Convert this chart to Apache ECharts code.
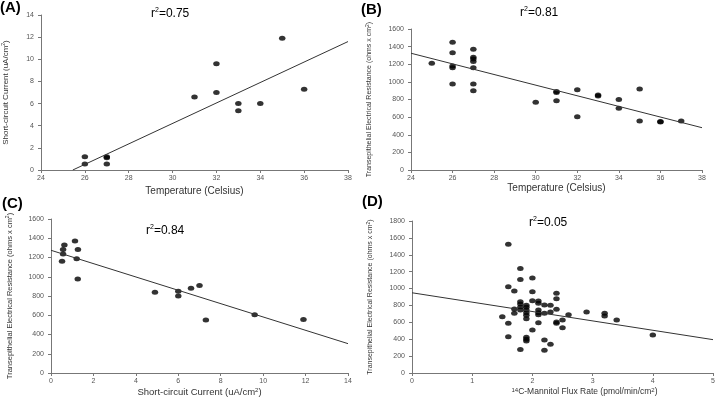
<!DOCTYPE html>
<html>
<head>
<meta charset="utf-8">
<script src="https://cdn.jsdelivr.net/npm/echarts@6/dist/echarts.min.js"></script>
<style>html,body{margin:0;padding:0;background:#fff}#c{width:720px;height:401px}</style>
</head>
<body>
<div id="c"></div>
<script>
// Panel A: Temperature vs Short-circuit current
const tempA = [26, 26, 27, 27, 27, 31, 32, 32, 33, 33, 34, 35, 36];
const iscA  = [1.2, 0.55, 1.2, 1.1, 0.55, 6.6, 9.6, 7.0, 6.0, 5.35, 6.0, 11.9, 7.3];
const fitA  = [[25.45, 0], [38, 11.6]];

// Panel B: Temperature vs TER
const tempB = [25, 26, 26, 26, 26, 26, 27, 27, 27, 27, 27, 27, 27, 30, 31, 31, 31, 32, 32, 33, 33, 34, 34, 35, 35, 36, 36, 37];
const terB  = [1210, 1450, 1330, 1180, 1160, 975, 1370, 1280, 1260, 1230, 1160, 975, 900, 770, 890, 880, 785, 910, 605, 850, 840, 800, 700, 920, 555, 550, 545, 555];
const fitB  = [[24, 1325], [38, 480]];

// Panel C: Short-circuit current vs TER
const iscC = [0.63, 0.57, 0.57, 0.52, 1.13, 1.27, 1.21, 1.26, 4.9, 6.0, 6.0, 6.6, 7.0, 7.3, 9.6, 11.9];
const terC = [1330, 1282, 1236, 1160, 1371, 1282, 1188, 976, 840, 850, 800, 880, 910, 550, 605, 555];
const fitC = [[0, 1275], [14, 305]];

// Panel D: Mannitol flux vs TER
const fluxD = [1.6, 1.8, 1.8, 2.0, 1.6, 1.7, 2.0, 2.4, 2.4, 2.0, 2.1, 2.1, 1.8, 1.8, 1.8, 1.8, 2.2, 2.3, 1.7, 1.7,
               1.9, 1.9, 1.9, 1.9, 1.9, 1.9, 2.1, 2.1, 2.1, 2.2, 2.3, 2.4, 2.6, 2.9, 3.2, 3.2, 3.4, 1.5, 1.6, 1.6,
               1.8, 2.1, 2.4, 2.4, 2.5, 2.5, 2.0, 1.9, 1.9, 1.9, 2.2, 2.2, 2.3, 4.0];
const terD  = [1525, 1238, 1108, 1125, 1022, 972, 963, 945, 880, 856, 852, 827, 845, 817, 780, 746, 804, 801, 758, 707,
               801, 778, 746, 714, 683, 643, 746, 714, 690, 707, 723, 754, 690, 722, 707, 675, 628, 667, 588, 430,
               278, 596, 605, 588, 628, 537, 509, 423, 399, 379, 391, 270, 340, 450];
const fitD  = [[0, 950], [5, 395]];

const xTicksA = {min: 24, max: 38, interval: 2};
const yTicksA = {min: 0, max: 14, interval: 2};
const xTicksB = {min: 24, max: 38, interval: 2};
const yTicksB = {min: 0, max: 1600, interval: 200};
const xTicksC = {min: 0, max: 14, interval: 2};
const yTicksC = {min: 0, max: 1600, interval: 200};
const xTicksD = {min: 0, max: 5, interval: 1};
const yTicksD = {min: 0, max: 1800, interval: 200};

const zip = (a, b) => a.map((v, i) => [v, b[i]]);
const FONT = 'Liberation Sans, Arial, sans-serif';
function supRich(fs) {
  return {
    n: {fontSize: fs, color: '#333', fontFamily: FONT},
    s: {fontSize: Math.round(fs * 0.65), color: '#333', fontFamily: FONT, verticalAlign: 'top', padding: [0, 0, 4, 0]}
  };
}

function xAx(idx, t, name, gap, fs, pad) {
  return {
    gridIndex: idx, type: 'value', min: t.min, max: t.max, interval: t.interval,
    name: name, nameLocation: 'middle', nameGap: gap,
    nameTextStyle: {fontSize: fs, color: '#333', fontFamily: FONT, rich: supRich(fs), padding: pad || 0},
    axisLine: {lineStyle: {color: '#777', width: 1}},
    axisTick: {show: true, length: 3, lineStyle: {color: '#777'}},
    axisLabel: {fontSize: 7, color: '#555', fontFamily: FONT, margin: 5, formatter: v => String(v)},
    splitLine: {show: false}
  };
}
function yAx(idx, t, name, gap, fs) {
  return {
    gridIndex: idx, type: 'value', min: t.min, max: t.max, interval: t.interval,
    name: name, nameLocation: 'middle', nameGap: gap,
    nameTextStyle: {fontSize: fs, color: '#333', fontFamily: FONT, rich: supRich(fs)},
    axisLine: {show: true, lineStyle: {color: '#777', width: 1}},
    axisTick: {show: true, length: 3, lineStyle: {color: '#777'}},
    axisLabel: {fontSize: 7, color: '#555', fontFamily: FONT, margin: 7, formatter: v => String(v)},
    splitLine: {show: false}
  };
}
function scatter(idx, data) {
  return {type: 'scatter', xAxisIndex: idx, yAxisIndex: idx, data: data,
    symbol: 'circle', symbolSize: [6.5, 5], itemStyle: {color: '#000'}, silent: true};
}
function fit(idx, data) {
  return {type: 'line', xAxisIndex: idx, yAxisIndex: idx, data: data, showSymbol: false,
    lineStyle: {color: '#333', width: 1}, silent: true};
}
function label(txt, x, y) {
  return {type: 'text', left: x, top: y, style: {text: txt, font: 'bold 15px ' + FONT, fill: '#000'}};
}
function r2(val, x, y) {
  return {type: 'text', left: x, top: y, style: {
    text: '{n|r}{s|2}{n|=' + val + '}',
    rich: {
      n: {fontSize: 12, fontFamily: FONT, fill: '#000'},
      s: {fontSize: 7, fontFamily: FONT, fill: '#000', verticalAlign: 'top', padding: [0, 0, 6, 0]}
    }
  }};
}

const chart = echarts.init(document.getElementById('c'));
chart.setOption({
  animation: false,
  grid: [
    {left: 40, top: 15, width: 308, height: 155},
    {left: 411, top: 29, width: 291, height: 141},
    {left: 51, top: 219, width: 297, height: 154},
    {left: 412, top: 221, width: 301, height: 152}
  ],
  xAxis: [
    xAx(0, xTicksA, 'Temperature (Celsius)', 16, 10),
    xAx(1, xTicksB, 'Temperature (Celsius)', 12, 10),
    xAx(2, xTicksC, '{n|Short-circuit Current (uA/cm}{s|2}{n|)}', 14, 9.5),
    xAx(3, xTicksD, '{s|14}{n|C-Mannitol Flux Rate (pmol/min/cm}{s|2}{n|)}', 14, 8.5, [0, 0, 0, 44])
  ],
  yAxis: [
    yAx(0, yTicksA, '{n|Short-circuit Current (uA/cm}{s|2}{n|)}', 31, 8),
    yAx(1, yTicksB, '{n|Transepithelial Electrical Resistance (ohms x cm}{s|2}{n|)}', 37, 7),
    yAx(2, yTicksC, '{n|Transepithelial Electrical Resistance (ohms x cm}{s|2}{n|)}', 37, 7.5),
    yAx(3, yTicksD, '{n|Transepithelial Electrical Resistance (ohms x cm}{s|2}{n|)}', 37, 7)
  ],
  series: [
    fit(0, fitA), scatter(0, zip(tempA, iscA)),
    fit(1, fitB), scatter(1, zip(tempB, terB)),
    fit(2, fitC), scatter(2, zip(iscC, terC)),
    fit(3, fitD), scatter(3, zip(fluxD, terD))
  ],
  graphic: [
    label('(A)', 0, 0), label('(B)', 361, 2), label('(C)', 2, 196), label('(D)', 362, 194),
    r2('0.75', 151, 7), r2('0.81', 520, 6), r2('0.84', 146, 224), r2('0.05', 529, 216)
  ]
});
</script>
</body>
</html>
